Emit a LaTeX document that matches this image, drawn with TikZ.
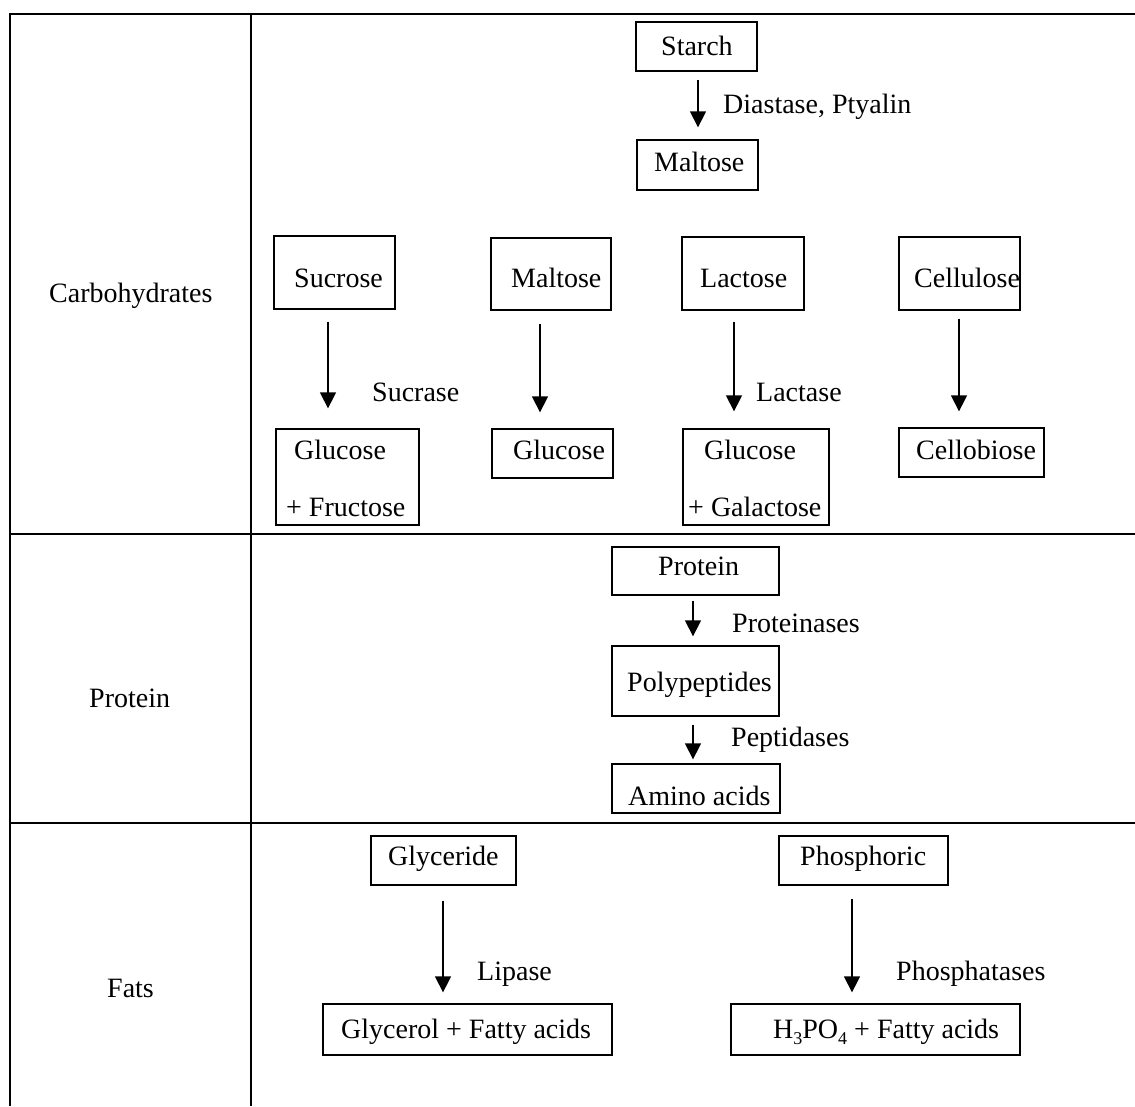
\documentclass[tikz,border=0pt]{standalone}
\usepackage{fontspec}
\setmainfont{Liberation Serif}
\usetikzlibrary{arrows.meta,calc,fit}
\begin{document}
\begin{tikzpicture}[x=1pt,y=-1pt,
  box/.style={draw,line width=1.3pt,inner sep=0pt,rectangle},
  txt/.style={anchor=base west,inner sep=0pt,font=\fontsize{28}{33}\selectfont},
  arr/.style={line width=1.3pt,-{Triangle[width=16pt,length=16pt]}},
  rule/.style={line width=2pt}]
\useasboundingbox (0,0) rectangle (1135,1106);
% table rules
\draw[rule] (10,1106) -- (10,14) -- (1135,14);
\draw[rule] (251,14) -- (251,1106);
\draw[rule] (10,534) -- (1135,534);
\draw[rule] (10,823) -- (1135,823);
% row labels
\node[txt] (lcarb) at (49,302) {Carbohydrates};
\node[txt] (lprot) at (89,707) {Protein};
\node[txt] (lfats) at (107,997) {Fats};
% ---- carbohydrates
\node[box,fit={(636,22) (757,71)}] (starch) {};
\node[txt] (tstarch) at (661,55) {Starch};
\node[box,fit={(637,140) (758,190)}] (maltoseA) {};
\node[txt] (tmaltoseA) at (654,171) {Maltose};
\draw[arr] ($(starch.south)+(1.5,8)$) -- ($(maltoseA.north)+(0.5,-12)$);
\node[txt] (ediast) at (723,113) {Diastase, Ptyalin};

\node[box,fit={(274,236) (395,309)}] (sucrose) {};
\node[txt] (tsucrose) at (294,287) {Sucrose};
\node[box,fit={(491,238) (611,310)}] (maltoseB) {};
\node[txt] (tmaltoseB) at (511,287) {Maltose};
\node[box,fit={(682,237) (804,310)}] (lactose) {};
\node[txt] (tlactose) at (700,287) {Lactose};
\node[box,fit={(899,237) (1020,310)}] (cellulose) {};
\node[txt] (tcellulose) at (914,287) {Cellulose};

\node[box,fit={(276,429) (419,525)}] (glufru) {};
\node[txt] (tglufru1) at (294,459) {Glucose};
\node[txt] (tglufru2) at (286,516) {+ Fructose};
\node[box,fit={(492,429) (613,478)}] (glucose) {};
\node[txt] (tglucose) at (513,459) {Glucose};
\node[box,fit={(683,429) (829,525)}] (glugal) {};
\node[txt] (tglugal1) at (704,459) {Glucose};
\node[txt] (tglugal2) at (688,516) {+ Galactose};
\node[box,fit={(899,428) (1044,477)}] (cellobiose) {};
\node[txt] (tcellobiose) at (916,459) {Cellobiose};

\draw[arr] ($(sucrose.south)+(-6.5,12)$) -- ($(glufru.north)+(-19.5,-20)$);
\draw[arr] ($(maltoseB.south)+(-11,13)$) -- ($(glucose.north)+(-12.5,-16)$);
\draw[arr] ($(lactose.south)+(-9,11)$) -- ($(glugal.north)+(-22,-17)$);
\draw[arr] ($(cellulose.south)+(-0.5,8)$) -- ($(cellobiose.north)+(-12.5,-16)$);
\node[txt] (esucrase) at (372,401) {Sucrase};
\node[txt] (elactase) at (756,401) {Lactase};
% ---- protein
\node[box,fit={(612,547) (779,595)}] (protein) {};
\node[txt] (tprotein) at (658,575) {Protein};
\node[box,fit={(612,646) (779,716)}] (polyp) {};
\node[txt] (tpolyp) at (627,691) {Polypeptides};
\node[box,fit={(612,764) (780,813)}] (amino) {};
\node[txt] (tamino) at (628,805) {Amino acids};
\draw[arr] ($(protein.south)+(-2.5,5)$) -- ($(polyp.north)+(-2.5,-9)$);
\draw[arr] ($(polyp.south)+(-2.5,8)$) -- ($(amino.north)+(-3,-4)$);
\node[txt] (eprot) at (732,632) {Proteinases};
\node[txt] (epept) at (731,746) {Peptidases};
% ---- fats
\node[box,fit={(371,836) (516,885)}] (glyceride) {};
\node[txt] (tglyceride) at (388,865) {Glyceride};
\node[box,fit={(323,1004) (612,1055)}] (glycerol) {};
\node[txt] (tglycerol) at (341,1038) {Glycerol + Fatty acids};
\draw[arr] ($(glyceride.south)+(-0.5,15)$) -- ($(glycerol.north)+(-24.5,-11)$);
\node[txt] (elipase) at (477,980) {Lipase};

\node[box,fit={(779,836) (948,885)}] (phosph) {};
\node[txt] (tphosph) at (800,865) {Phosphoric};
\node[box,fit={(731,1004) (1020,1055)}] (hpo) {};
\node[txt] (thpo) at (773,1038) {H\raisebox{-6pt}{\fontsize{18}{18}\selectfont 3}PO\raisebox{-6pt}{\fontsize{18}{18}\selectfont 4} + Fatty acids};
\draw[arr] ($(phosph.south)+(-11.5,13)$) -- ($(hpo.north)+(-23.5,-11)$);
\node[txt] (ephosph) at (896,980) {Phosphatases};
\end{tikzpicture}
\end{document}
